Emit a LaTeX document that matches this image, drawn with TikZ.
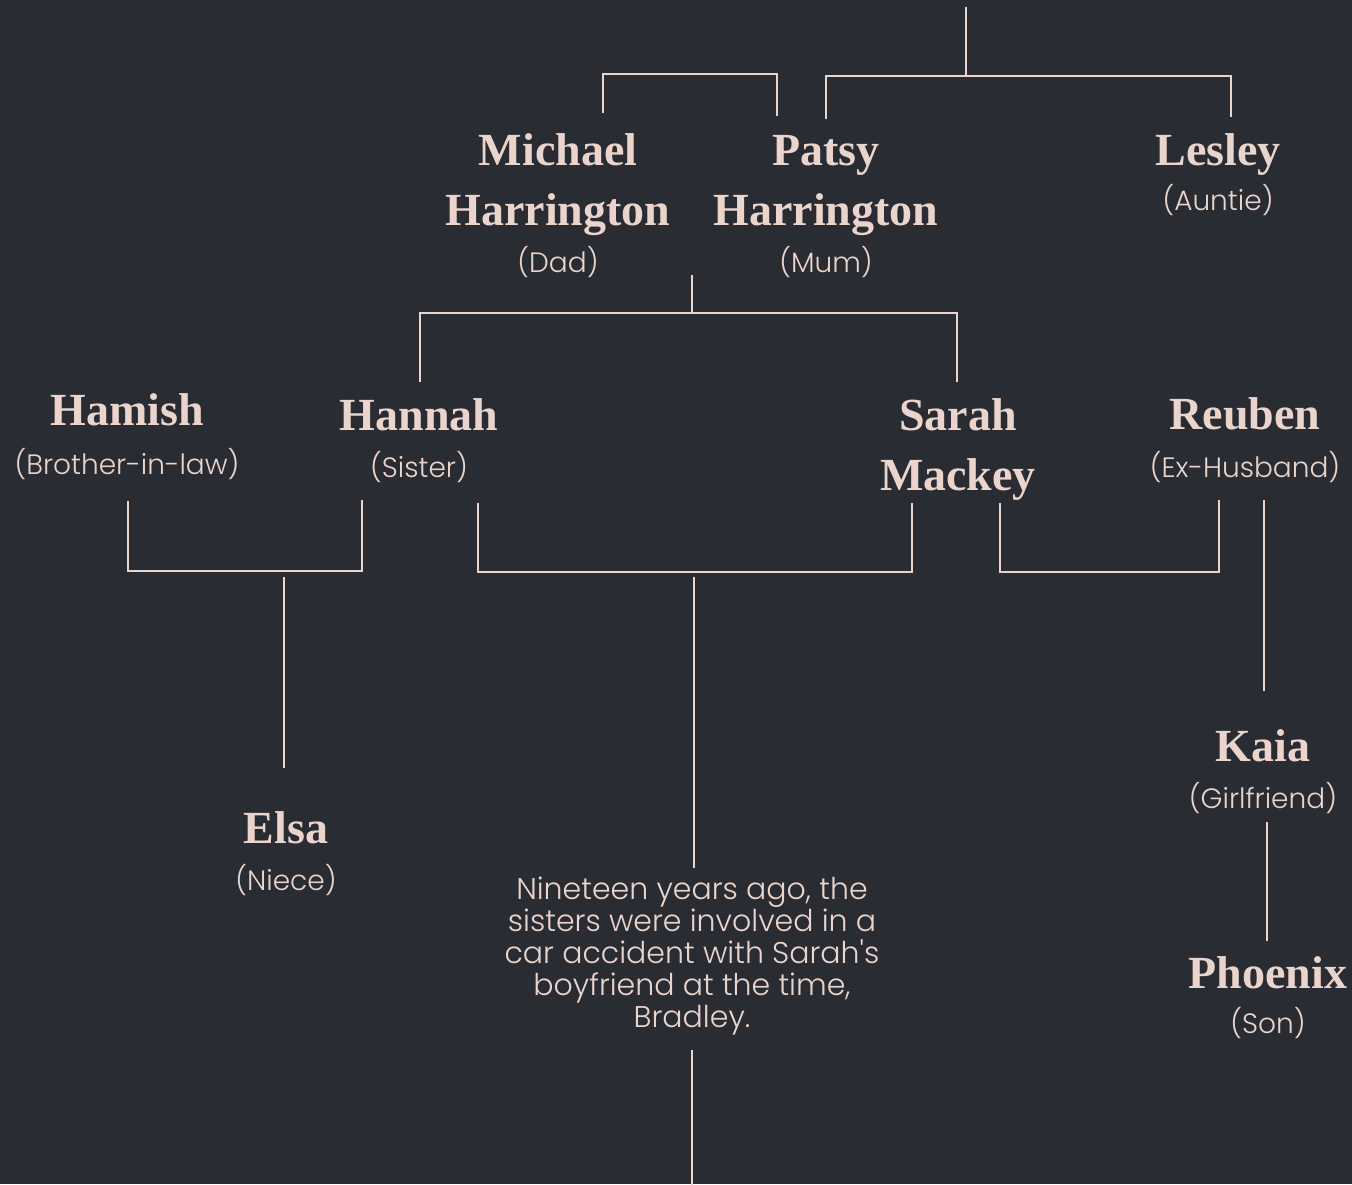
\documentclass[tikz,border=0pt]{standalone}
\usepackage{fontspec}
\setmainfont{Liberation Serif}
\newfontfamily\rolefont{Poppins Light}
\definecolor{bgdark}{RGB}{41,44,51}
\definecolor{blush}{RGB}{234,212,203}
\tikzset{
	personname/.style={anchor=base, align=center, inner sep=0pt, text=blush, font=\bfseries\fontsize{46}{60}\selectfont},
	relation/.style={anchor=base, inner sep=0pt, text=blush, font=\rolefont\fontsize{28}{32}\selectfont},
	link/.style={draw=blush, line width=2.8pt}
}

\begin{document}
\begin{tikzpicture}[x=1pt,y=-1pt]
			%%%%% START %%%%%
			
			\fill[bgdark] (0,0) rectangle (1352,1184);
			\useasboundingbox (0,0) rectangle (1352,1184);
			
			% parents and auntie (two-line names sit on their last line)
			\node[personname] (michael) at (558,225) {Michael\\Harrington};
			\node[relation] (michaelrole) at (558,272) {(Dad)};
			\node[personname] (patsy) at (826,225) {Patsy\\Harrington};
			\node[relation] (patsyrole) at (826,272) {(Mum)};
			\node[personname] (lesley) at (1218,165) {Lesley};
			\node[relation] (lesleyrole) at (1218,210) {(Auntie)};
			
			% sisters and partners
			\node[personname] (hamish) at (127,425) {Hamish};
			\node[relation] (hamishrole) at (127,474) {(Brother-in-law)};
			\node[personname] (hannah) at (419,430) {Hannah};
			\node[relation] (hannahrole) at (419,477) {(Sister)};
			\node[personname] (sarah) at (958,490) {Sarah\\Mackey};
			\node[personname] (reuben) at (1245,429) {Reuben};
			\node[relation] (reubenrole) at (1245,477) {(Ex-Husband)};
			
			% next generation
			\node[personname] (elsa) at (286,843) {Elsa};
			\node[relation] (elsarole) at (286,890) {(Niece)};
			\node[personname] (kaia) at (1263,761) {Kaia};
			\node[relation] (kaiarole) at (1263,808) {(Girlfriend)};
			\node[personname] (phoenix) at (1268,988) {Phoenix};
			\node[relation] (phoenixrole) at (1268,1033) {(Son)};
			
			\node[relation, align=center, font=\rolefont\fontsize{30}{32}\selectfont] (accident) at (692,1027)
				{Nineteen years ago, the\\sisters were involved in a\\car accident with Sarah's\\boyfriend at the time,\\Bradley.};
			
			% connector ends
			\coordinate (top) at (966,7);
			\coordinate (topfork) at (966,76);
			\coordinate (patsyup) at (826,119);
			\coordinate (lesleyup) at (1231,117);
			\coordinate (dadup) at (603,113);
			\coordinate (mumup) at (777,116);
			\coordinate (parentsbar) at (692,74);
			\coordinate (parentsdown) at (692,275);
			\coordinate (childfork) at (692,313);
			\coordinate (hannahup) at (420,382);
			\coordinate (sarahup) at (957,382);
			\coordinate (hamishdown) at (128,501);
			\coordinate (hannahdownl) at (362,500);
			\coordinate (hamishbar) at (245,571);
			\coordinate (elsafork) at (284,577);
			\coordinate (elsaup) at (284,768);
			\coordinate (hannahdownr) at (478,503);
			\coordinate (sarahdownl) at (912,503);
			\coordinate (sisterbar) at (694,572);
			\coordinate (sisterfork) at (694,577);
			\coordinate (accidentup) at (694,868);
			\coordinate (accidentdown) at (692,1050);
			\coordinate (bottom) at (692,1186);
			\coordinate (sarahdownr) at (1000,503);
			\coordinate (reubendownl) at (1219,500);
			\coordinate (reubenbar) at (1110,572);
			\coordinate (reubendown) at (1264,500);
			\coordinate (kaiaup) at (1264,691);
			\coordinate (kaiadown) at (1267,822);
			\coordinate (phoenixup) at (1267,941);
			
			\draw[link] (top) -- (topfork);
			\draw[link] (patsyup) |- (topfork) -| (lesleyup);
			\draw[link] (dadup) |- (parentsbar) -| (mumup);
			\draw[link] (parentsdown) -- (childfork);
			\draw[link] (hannahup) |- (childfork) -| (sarahup);
			\draw[link] (hamishdown) |- (hamishbar) -| (hannahdownl);
			\draw[link] (elsafork) -- (elsaup);
			\draw[link] (hannahdownr) |- (sisterbar) -| (sarahdownl);
			\draw[link] (sisterfork) -- (accidentup);
			\draw[link] (accidentdown) -- (bottom);
			\draw[link] (sarahdownr) |- (reubenbar) -| (reubendownl);
			\draw[link] (reubendown) -- (kaiaup);
			\draw[link] (kaiadown) -- (phoenixup);
			
			%%%%% END %%%%%
\end{tikzpicture}
\end{document}
